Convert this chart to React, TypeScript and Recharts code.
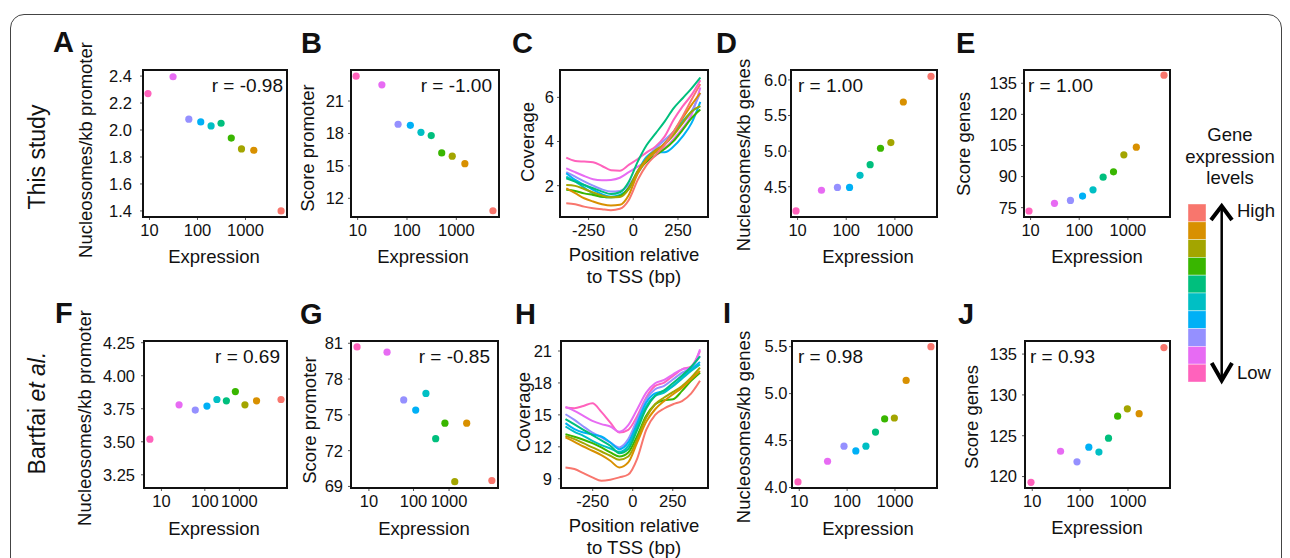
import React from "react";
import { ScatterChart, Scatter, LineChart, Line, XAxis, YAxis, Cell } from "recharts";

const FONT = "'Liberation Sans', Arial, Helvetica, sans-serif";
const INK = "#111";

// ggplot hue palette, lowest expression group first
const GROUP_COLORS = ["#FF62BC", "#E76BF3", "#9590FF", "#00B0F6", "#00BFC4", "#00BF7D", "#39B600", "#A3A500", "#D89000", "#F8766D"];

// expression of the 10 groups
const EXPR_THIS = [9.3, 31, 66, 117, 192, 310, 506, 826, 1490, 5520];
const EXPR_BART = [9.4, 39, 86, 152, 247, 392, 608, 970, 1710, 5640];

// this study
const NUC_PROM_THIS = [2.27, 2.395, 2.08, 2.06, 2.03, 2.05, 1.94, 1.86, 1.85, 1.4];
const SCORE_PROM_THIS = [23.3, 22.5, 18.85, 18.75, 18.1, 17.8, 16.2, 15.9, 15.2, 10.85];
const NUC_GENES_THIS = [4.16, 4.45, 4.49, 4.49, 4.66, 4.81, 5.04, 5.12, 5.69, 6.05];
const SCORE_GENES_THIS = [73.4, 77.1, 78.5, 80.6, 83.6, 89.7, 92.3, 100.5, 104.2, 138.9];

// Bartfai et al.
const NUC_PROM_BART = [3.52, 3.78, 3.74, 3.77, 3.82, 3.81, 3.88, 3.78, 3.81, 3.82];
const SCORE_PROM_BART = [80.69, 80.25, 76.25, 75.4, 76.8, 73.0, 74.3, 69.4, 74.3, 69.5];
const NUC_GENES_BART = [4.06, 4.28, 4.44, 4.39, 4.44, 4.59, 4.73, 4.74, 5.14, 5.5];
const SCORE_GENES_BART = [119.3, 123.1, 121.8, 123.6, 123.0, 124.7, 127.4, 128.3, 127.7, 135.8];

// coverage around the TSS, panel C
const POS_C = [-375, -325, -275, -225, -175, -125, -75, -25, 25, 75, 125, 175, 225, 275, 325, 375];
const COV_C_1 = [3.27, 3.12, 3.09, 3.06, 2.89, 2.7, 2.68, 2.94, 3.21, 3.51, 3.77, 4.22, 4.97, 5.58, 6.1, 6.78];
const COV_C_2 = [2.79, 2.61, 2.44, 2.29, 2.24, 2.26, 2.36, 2.61, 2.86, 3.09, 3.36, 3.69, 4.11, 4.6, 5.2, 6.45];
const COV_C_3 = [2.61, 2.41, 2.19, 2.0, 1.83, 1.73, 1.76, 2.03, 2.64, 3.27, 3.69, 4.07, 4.44, 4.82, 5.35, 6.2];
const COV_C_4 = [2.56, 2.26, 2.03, 1.81, 1.61, 1.5, 1.58, 1.88, 2.64, 3.31, 3.51, 3.51, 3.77, 4.22, 4.82, 5.8];
const COV_C_5 = [2.41, 2.19, 1.91, 1.65, 1.5, 1.47, 1.55, 1.85, 2.56, 3.16, 3.54, 3.91, 4.37, 4.9, 5.35, 5.6];
const COV_C_6 = [2.33, 2.18, 2.03, 1.88, 1.73, 1.62, 1.7, 2.18, 3.09, 3.84, 4.37, 4.9, 5.5, 5.95, 6.4, 6.9];
const COV_C_7 = [1.81, 1.76, 1.65, 1.58, 1.5, 1.47, 1.53, 1.91, 2.64, 3.09, 3.39, 3.66, 4.02, 4.52, 5.05, 5.45];
const COV_C_8 = [2.03, 1.99, 1.85, 1.69, 1.55, 1.47, 1.49, 1.85, 2.67, 3.24, 3.61, 3.87, 4.29, 4.82, 5.35, 5.6];
const COV_C_9 = [1.88, 1.66, 1.43, 1.28, 1.16, 1.1, 1.13, 1.58, 2.56, 3.16, 3.54, 3.91, 4.44, 5.05, 5.65, 6.2];
const COV_C_10 = [1.2, 1.16, 1.05, 0.98, 0.93, 0.89, 0.95, 1.35, 2.26, 2.94, 3.39, 3.84, 4.44, 5.12, 5.88, 6.6];

// coverage around the TSS, panel H
const POS_H = [-420, -364, -308, -252, -196, -140, -84, -28, 28, 84, 140, 196, 252, 308, 364, 420];
const COV_H_1 = [15.69, 15.63, 15.84, 16.09, 15.28, 14.28, 13.34, 13.6, 14.9, 16.63, 17.72, 18.03, 18.66, 19.28, 19.53, 21.0];
const COV_H_2 = [15.75, 15.38, 14.91, 14.44, 14.13, 13.91, 13.41, 14.03, 15.53, 17.09, 17.97, 18.28, 18.81, 19.28, 19.44, 21.16];
const COV_H_3 = [15.06, 14.53, 13.91, 13.34, 12.88, 12.41, 11.94, 12.72, 14.59, 16.47, 17.41, 17.72, 18.34, 18.97, 19.44, 20.53];
const COV_H_4 = [14.22, 13.66, 13.34, 13.16, 12.97, 12.41, 11.78, 12.41, 14.22, 16.16, 17.03, 17.25, 17.72, 18.5, 19.28, 19.97];
const COV_H_5 = [13.91, 13.41, 13.03, 12.56, 12.16, 11.84, 11.53, 12.09, 13.91, 15.78, 16.78, 17.09, 17.72, 18.41, 19.13, 19.75];
const COV_H_6 = [14.6, 14.1, 13.6, 13.1, 12.6, 12.1, 11.4, 11.8, 13.6, 15.6, 16.8, 17.3, 18.0, 18.7, 19.5, 20.5];
const COV_H_7 = [13.19, 12.94, 12.66, 12.34, 11.94, 11.47, 11.09, 11.47, 13.03, 14.91, 16.0, 16.38, 16.47, 17.25, 18.19, 18.97];
const COV_H_8 = [13.03, 12.72, 12.34, 11.94, 11.56, 11.16, 10.78, 11.09, 12.72, 14.75, 16.0, 16.63, 17.16, 17.72, 18.5, 19.44];
const COV_H_9 = [12.88, 12.47, 12.03, 11.63, 11.22, 10.69, 10.06, 10.53, 12.41, 14.34, 15.53, 16.31, 16.94, 17.56, 18.34, 19.13];
const COV_H_10 = [10.06, 9.91, 9.53, 9.13, 8.81, 8.91, 9.13, 9.4, 10.9, 13.6, 15.0, 15.6, 16.0, 16.3, 17.0, 18.2];

const COV_C = [COV_C_1, COV_C_2, COV_C_3, COV_C_4, COV_C_5, COV_C_6, COV_C_7, COV_C_8, COV_C_9, COV_C_10];
const COV_H = [COV_H_1, COV_H_2, COV_H_3, COV_H_4, COV_H_5, COV_H_6, COV_H_7, COV_H_8, COV_H_9, COV_H_10];

// ticks
const LOG_TICKS = [10, 100, 1000];
const LOG_TICKS_FG = [16.5, 137, 740]; // F and G print their labels off the decades
const LOG_LABELS = ["10", "100", "1000"];
const TSS_TICKS = [-250, 0, 250];
const TICKS_A = [1.4, 1.6, 1.8, 2.0, 2.2, 2.4];
const TICKS_B = [12, 15, 18, 21];
const TICKS_C = [2, 4, 6];
const TICKS_D = [4.5, 5.0, 5.5, 6.0];
const TICKS_E = [75, 90, 105, 120, 135];
const TICKS_F = [3.25, 3.5, 3.75, 4.0, 4.25];
const TICKS_G = [69, 72, 75, 78, 81];
const TICKS_H = [9, 12, 15, 18, 21];
const TICKS_I = [4.0, 4.5, 5.0, 5.5];
const TICKS_J = [120, 125, 130, 135];

const PAD_L = 70, PAD_R = 8, PAD_T = 8, PAD_B = 40;
const tickStyle = { fill: INK, fontSize: 16.5, fontFamily: FONT };

const Frame = ({ w, h }: { w: number; h: number }) => (
  <div style={{ position: "absolute", left: PAD_L - 1, top: PAD_T - 1, width: w + 2, height: h + 2, border: "2px solid #111", boxSizing: "border-box", pointerEvents: "none" }} />
);

const Dot = (p: any) => <circle cx={p.cx} cy={p.cy} r={3.6} fill={p.fill} />;

function ScatterPanel({ x, y, w, h, xs, ys, xDomain, xTicks = LOG_TICKS, yDomain, yTicks, digits = 0, yGap = 4 }: any) {
  const data = xs.map((v: number, i: number) => ({ x: v, y: ys[i] }));
  const xFmt = (v: number) => LOG_LABELS[xTicks.indexOf(v)] ?? String(v);
  return (
    <div style={{ position: "absolute", left: x - PAD_L, top: y - PAD_T }}>
      <ScatterChart width={w + PAD_L + PAD_R} height={h + PAD_T + PAD_B} margin={{ top: PAD_T, right: PAD_R, bottom: 0, left: 0 }}>
        <XAxis type="number" dataKey="x" scale="log" domain={xDomain} ticks={xTicks} tickFormatter={xFmt} allowDataOverflow interval={0}
          height={PAD_B} axisLine={false} tickLine={{ stroke: "#555" }} tickSize={3} tickMargin={4} tick={tickStyle} />
        <YAxis type="number" dataKey="y" domain={yDomain} ticks={yTicks} tickFormatter={(v: number) => v.toFixed(digits)} allowDataOverflow interval={0}
          width={PAD_L} axisLine={false} tickLine={{ stroke: "#555" }} tickSize={3} tickMargin={yGap} tick={tickStyle} />
        <Scatter data={data} shape={Dot} isAnimationActive={false}>
          {data.map((_: any, i: number) => <Cell key={i} fill={GROUP_COLORS[i]} />)}
        </Scatter>
      </ScatterChart>
      <Frame w={w} h={h} />
    </div>
  );
}

function LinePanel({ x, y, w, h, pos, series, xDomain, yDomain, yTicks, yGap = 4 }: any) {
  const data = pos.map((p: number, i: number) => {
    const row: any = { x: p };
    series.forEach((s: number[], k: number) => { row["g" + k] = s[i]; });
    return row;
  });
  return (
    <div style={{ position: "absolute", left: x - PAD_L, top: y - PAD_T }}>
      <LineChart width={w + PAD_L + PAD_R} height={h + PAD_T + PAD_B} data={data} margin={{ top: PAD_T, right: PAD_R, bottom: 0, left: 0 }}>
        <XAxis type="number" dataKey="x" domain={xDomain} ticks={TSS_TICKS} allowDataOverflow interval={0}
          height={PAD_B} axisLine={false} tickLine={{ stroke: "#555" }} tickSize={3} tickMargin={4} tick={tickStyle} />
        <YAxis type="number" domain={yDomain} ticks={yTicks} allowDataOverflow interval={0}
          width={PAD_L} axisLine={false} tickLine={{ stroke: "#555" }} tickSize={3} tickMargin={yGap} tick={tickStyle} />
        {series.map((_: any, k: number) => (
          <Line key={k} type="monotone" dataKey={"g" + k} stroke={GROUP_COLORS[k]} strokeWidth={2} dot={false} isAnimationActive={false} />
        ))}
      </LineChart>
      <Frame w={w} h={h} />
    </div>
  );
}

function Txt({ x, y, size = 18.5, anchor = "middle", rotate = false, bold = false, children }: any) {
  const tx = anchor === "middle" ? "-50%" : anchor === "end" ? "-100%" : "0";
  return (
    <div style={{
      position: "absolute", left: x, top: y, whiteSpace: "nowrap", lineHeight: 1, fontSize: size, color: INK,
      fontFamily: FONT, fontWeight: bold ? 700 : 400,
      transform: `translate(${tx}, -50%)${rotate ? " rotate(-90deg)" : ""}`,
    }}>{children}</div>
  );
}

const DOM_THIS = [7.33, 7330];
const DOM_BART = [7.05, 7550];

export default function App() {
  const LEG = [...GROUP_COLORS].reverse();
  return (
    <div style={{ position: "absolute", left: 0, top: 0, width: 1290, height: 558, overflow: "hidden", background: "#fff", fontFamily: FONT }}>
      <div style={{ position: "absolute", left: 10, top: 14, width: 1272, height: 600, border: "1.5px solid #444", borderRadius: 14, boxSizing: "border-box" }} />

      {/* top row */}
      <ScatterPanel x={143} y={70} w={144} h={147} xs={EXPR_THIS} ys={NUC_PROM_THIS} xDomain={DOM_THIS} yDomain={[1.355, 2.445]} yTicks={TICKS_A} digits={1} yGap={8} />
      <ScatterPanel x={351} y={70} w={148} h={147} xs={EXPR_THIS} ys={SCORE_PROM_THIS} xDomain={DOM_THIS} yDomain={[10.27, 23.87]} yTicks={TICKS_B} yGap={4} />
      <LinePanel x={560} y={70} w={148} h={147} pos={POS_C} series={COV_C} xDomain={[-410, 418]} yDomain={[0.58, 7.24]} yTicks={TICKS_C} yGap={3} />
      <ScatterPanel x={791} y={70} w={146} h={147} xs={EXPR_THIS} ys={NUC_GENES_THIS} xDomain={DOM_THIS} yDomain={[4.074, 6.14]} yTicks={TICKS_D} digits={1} yGap={1} />
      <ScatterPanel x={1024} y={70} w={146} h={147} xs={EXPR_THIS} ys={SCORE_GENES_THIS} xDomain={DOM_THIS} yDomain={[70.5, 141.4]} yTicks={TICKS_E} yGap={4} />

      {/* bottom row */}
      <ScatterPanel x={144} y={341} w={143} h={147} xs={EXPR_BART} ys={NUC_PROM_BART} xDomain={DOM_BART} xTicks={LOG_TICKS_FG} yDomain={[3.15, 4.263]} yTicks={TICKS_F} digits={2} yGap={6} />
      <ScatterPanel x={351} y={341} w={147} h={147} xs={EXPR_BART} ys={SCORE_PROM_BART} xDomain={DOM_BART} xTicks={LOG_TICKS_FG} yDomain={[68.87, 81.19]} yTicks={TICKS_G} yGap={5} />
      <LinePanel x={561} y={341} w={147} h={147} pos={POS_H} series={COV_H} xDomain={[-448, 470]} yDomain={[8.13, 21.94]} yTicks={TICKS_H} yGap={6} />
      <ScatterPanel x={792} y={341} w={145} h={147} xs={EXPR_BART} ys={NUC_GENES_BART} xDomain={DOM_BART} yDomain={[3.995, 5.56]} yTicks={TICKS_I} digits={1} yGap={1.5} />
      <ScatterPanel x={1025} y={341} w={145} h={147} xs={EXPR_BART} ys={SCORE_GENES_BART} xDomain={DOM_BART} yDomain={[118.6, 136.6]} yTicks={TICKS_J} yGap={5} />

      {/* panel letters */}
      <Txt x={53} y={42} size={29} bold anchor="start">A</Txt>
      <Txt x={301} y={43} size={29} bold anchor="start">B</Txt>
      <Txt x={512} y={43} size={29} bold anchor="start">C</Txt>
      <Txt x={716} y={43} size={29} bold anchor="start">D</Txt>
      <Txt x={956} y={43} size={29} bold anchor="start">E</Txt>
      <Txt x={55} y={313} size={29} bold anchor="start">F</Txt>
      <Txt x={300} y={314} size={29} bold anchor="start">G</Txt>
      <Txt x={515} y={314} size={29} bold anchor="start">H</Txt>
      <Txt x={723} y={313} size={29} bold anchor="start">I</Txt>
      <Txt x={958} y={314} size={29} bold anchor="start">J</Txt>

      {/* row labels */}
      <Txt x={37} y={157} size={23} rotate>This study</Txt>
      <Txt x={37} y={413} size={23} rotate>Bartfai <i>et al.</i></Txt>

      {/* y titles */}
      <Txt x={86} y={150} rotate>Nucleosomes/kb promoter</Txt>
      <Txt x={308} y={148} rotate>Score promoter</Txt>
      <Txt x={528} y={142} rotate>Coverage</Txt>
      <Txt x={744} y={155} rotate>Nucleosomes/kb genes</Txt>
      <Txt x={964} y={144} rotate>Score genes</Txt>
      <Txt x={85} y={418} rotate>Nucleosomes/kb promoter</Txt>
      <Txt x={310} y={420} rotate>Score promoter</Txt>
      <Txt x={524} y={412} rotate>Coverage</Txt>
      <Txt x={744} y={427} rotate>Nucleosomes/kb genes</Txt>
      <Txt x={972} y={417} rotate>Score genes</Txt>

      {/* x titles */}
      <Txt x={214} y={257}>Expression</Txt>
      <Txt x={423} y={257}>Expression</Txt>
      <Txt x={634} y={255}>Position relative</Txt>
      <Txt x={634} y={277}>to TSS (bp)</Txt>
      <Txt x={868} y={257}>Expression</Txt>
      <Txt x={1097} y={257}>Expression</Txt>
      <Txt x={214} y={529}>Expression</Txt>
      <Txt x={424} y={529}>Expression</Txt>
      <Txt x={634} y={526}>Position relative</Txt>
      <Txt x={634} y={548}>to TSS (bp)</Txt>
      <Txt x={868} y={529}>Expression</Txt>
      <Txt x={1097} y={528}>Expression</Txt>

      {/* correlations */}
      <Txt x={283} y={85} size={19} anchor="end">r = -0.98</Txt>
      <Txt x={492} y={85} size={19} anchor="end">r = -1.00</Txt>
      <Txt x={798} y={85} size={19} anchor="start">r = 1.00</Txt>
      <Txt x={1028} y={85} size={19} anchor="start">r = 1.00</Txt>
      <Txt x={280} y={356} size={19} anchor="end">r = 0.69</Txt>
      <Txt x={490} y={356} size={19} anchor="end">r = -0.85</Txt>
      <Txt x={798} y={356} size={19} anchor="start">r = 0.98</Txt>
      <Txt x={1030} y={356} size={19} anchor="start">r = 0.93</Txt>

      {/* legend */}
      <Txt x={1230} y={135}>Gene</Txt>
      <Txt x={1230} y={157}>expression</Txt>
      <Txt x={1230} y={178}>levels</Txt>
      <Txt x={1237} y={211} anchor="start">High</Txt>
      <Txt x={1237} y={373} anchor="start">Low</Txt>
      <svg style={{ position: "absolute", left: 1180, top: 195, overflow: "visible" }} width={60} height={200}>
        {LEG.map((c, i) => (
          <rect key={c} x={8} y={9 + i * 17.8} width={18} height={17.8} fill={c} stroke="#fff" strokeOpacity={0.5} strokeWidth={0.8} />
        ))}
        <line x1={41.7} y1={12} x2={41.7} y2={184} stroke="#000" strokeWidth={2.5} />
        <polyline points="31,25 41.7,11 52,25" fill="none" stroke="#000" strokeWidth={4} />
        <polyline points="31.7,168 41.7,185.5 52,168" fill="none" stroke="#000" strokeWidth={4} />
      </svg>
    </div>
  );
}
